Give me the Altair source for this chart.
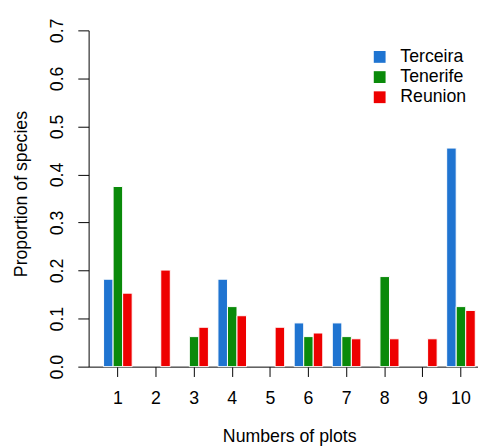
import altair as alt
import pandas as pd

plots = [str(i) for i in range(1, 11)]
series = ["Terceira", "Tenerife", "Reunion"]
terceira = [0.182, 0.0, 0.0, 0.182, 0.0, 0.091, 0.091, 0.0, 0.0, 0.455]
tenerife = [0.375, 0.0, 0.0625, 0.125, 0.0, 0.0625, 0.0625, 0.1875, 0.0, 0.125]
reunion = [0.153, 0.201, 0.082, 0.106, 0.082, 0.070, 0.058, 0.058, 0.058, 0.117]
colors = ["#1f74d1", "#0a8a0a", "#ee0000"]
y_ticks = [0.0, 0.1, 0.2, 0.3, 0.4, 0.5, 0.6, 0.7]

rows = []
for name, vals in zip(series, [terceira, tenerife, reunion]):
    for p, v in zip(plots, vals):
        if v > 0:
            rows.append({"plot": p, "series": name, "value": v})
df = pd.DataFrame(rows)

FONT = "Liberation Sans"
FS = 18

chart = alt.Chart(df).mark_bar(stroke="white", strokeWidth=1).encode(
    x=alt.X(
        "plot:N",
        sort=plots,
        scale=alt.Scale(domain=plots, paddingInner=0.25, paddingOuter=0.232, align=0.845),
        axis=alt.Axis(
            title="Numbers of plots",
            labelAngle=0,
            tickSize=10,
            labelPadding=13,
            titleX=204,
            titleY=76,
            titleBaseline="alphabetic",
            titleAlign="center",
        ),
    ),
    xOffset=alt.XOffset(
        "series:N",
        sort=series,
        scale=alt.Scale(domain=series, paddingInner=0, paddingOuter=0),
    ),
    y=alt.Y(
        "value:Q",
        scale=alt.Scale(domain=[0, 0.7], nice=False, zero=True),
        axis=alt.Axis(
            title="Proportion of species",
            values=y_ticks,
            format=".1f",
            tickSize=11,
            labelAngle=270,
            labelAlign="center",
            labelBaseline="bottom",
            labelPadding=12,
            titleAngle=270,
            titleX=-68,
            titleY=166,
            titleAlign="center",
            titleBaseline="middle",
        ),
    ),
    color=alt.Color(
        "series:N",
        sort=series,
        scale=alt.Scale(domain=series, range=colors),
        legend=alt.Legend(
            orient="none",
            legendX=287,
            legendY=18,
            title=None,
            symbolType="square",
            symbolSize=144,
            symbolStrokeWidth=0,
            labelFontSize=FS,
            labelFont=FONT,
            labelColor="black",
            labelOffset=12,
            rowPadding=2.5,
            padding=0,
        ),
    ),
).properties(
    width=396,
    height=342,
    autosize=alt.AutoSizeParams(type="none"),
    padding={"left": 82, "top": 19, "right": 0, "bottom": 80},
).configure_view(
    stroke=None
).configure_axis(
    grid=False,
    domainColor="black",
    domainWidth=1,
    tickColor="black",
    tickWidth=1,
    labelFont=FONT,
    labelFontSize=FS,
    labelColor="black",
    titleFont=FONT,
    titleFontSize=FS,
    titleFontWeight="normal",
    titleColor="black",
)

chart.save("out.html", embed_options={"renderer": "svg", "actions": False})
